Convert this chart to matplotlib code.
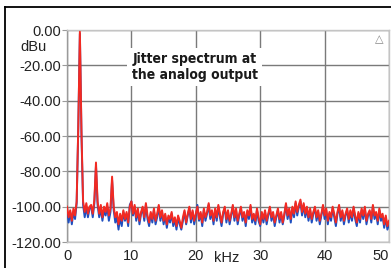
import numpy as np
import matplotlib
matplotlib.use("Agg")
import matplotlib.pyplot as plt
from matplotlib.lines import Line2D
from matplotlib.transforms import ScaledTranslation

# ---- data ----
red_db = [
    -100, -106, -102, -108,
    -101, -105, -97, -55,
    -1, -58, -97, -103,
    -98, -104, -100, -99,
    -104, -96, -75, -97,
    -104, -99, -106, -100,
    -103, -98, -105, -101,
    -83, -100, -106, -103,
    -110, -104, -108, -102,
    -107, -103, -109, -100,
    -97, -104, -99, -106,
    -101, -108, -103, -100,
    -106, -98, -105, -109,
    -103, -107, -101, -108,
    -104, -99, -106, -102,
    -108, -104, -110, -105,
    -107, -103, -109, -106,
    -111, -105, -108, -112,
    -106, -102, -109, -104,
    -100, -107, -102, -108,
    -104, -100, -107, -103,
    -109, -101, -106, -103,
    -98, -105, -102, -108,
    -101, -106, -99, -104,
    -109, -103, -100, -107,
    -102, -108, -104, -99,
    -106, -101, -108, -104,
    -100, -106, -103, -109,
    -102, -105, -99, -107,
    -104, -108, -101, -106,
    -110, -103, -107, -102,
    -108, -104, -100, -106,
    -103, -109, -105, -101,
    -107, -103, -109, -104,
    -98, -105, -101, -107,
    -100, -104, -97, -103,
    -99, -96, -103, -98,
    -104, -100, -106, -101,
    -107, -103, -100, -106,
    -102, -108, -104, -99,
    -105, -101, -108, -103,
    -106, -100, -104, -109,
    -103, -99, -106, -102,
    -108, -104, -101, -107,
    -102, -106, -100, -105,
    -109, -103, -107, -101,
    -105, -100, -108, -104,
    -102, -107, -99, -105,
    -103, -108, -101, -106,
    -104, -110, -105, -111,
    -108,
]

blue_db = [
    -101, -109, -103, -110,
    -103, -107, -98, -56,
    -2, -60, -99, -106,
    -100, -106, -101, -100,
    -106, -98, -77, -99,
    -106, -101, -108, -102,
    -105, -100, -108, -103,
    -85, -102, -109, -106,
    -113, -106, -111, -103,
    -108, -104, -111, -99,
    -97, -105, -100, -108,
    -102, -110, -104, -101,
    -108, -99, -107, -111,
    -104, -109, -102, -110,
    -106, -100, -108, -103,
    -110, -105, -112, -106,
    -109, -104, -111, -107,
    -113, -106, -110, -113,
    -108, -103, -110, -105,
    -101, -109, -103, -110,
    -105, -99, -108, -104,
    -111, -102, -108, -104,
    -99, -107, -103, -110,
    -102, -108, -100, -106,
    -111, -104, -101, -109,
    -103, -110, -105, -100,
    -108, -102, -110, -105,
    -101, -108, -104, -111,
    -103, -107, -100, -109,
    -105, -110, -102, -108,
    -111, -104, -109, -103,
    -110, -105, -101, -108,
    -104, -111, -106, -102,
    -109, -104, -110, -105,
    -99, -107, -102, -109,
    -101, -106, -98, -105,
    -100, -97, -105, -99,
    -106, -101, -108, -102,
    -109, -104, -101, -108,
    -103, -110, -105, -100,
    -107, -102, -110, -104,
    -108, -101, -106, -111,
    -104, -100, -108, -103,
    -110, -105, -102, -109,
    -103, -108, -101, -107,
    -111, -104, -109, -102,
    -107, -101, -110, -105,
    -103, -109, -100, -107,
    -104, -110, -102, -108,
    -105, -112, -106, -113,
    -110,
]

freq_khz = np.linspace(0, 50, len(red_db))

y_ticks = [0, -20, -40, -60, -80, -100, -120]
y_labels = ["0.00", "-20.00", "-40.00", "-60.00", "-80.00", "-100.00", "-120.00"]
x_ticks = [0, 10, 20, 30, 40, 50]
x_labels = ["0", "10", "20", "30", "40", "50"]
note = "Jitter spectrum at\nthe analog output"

# ---- figure ----
W, H = 391, 268
fig = plt.figure(figsize=(W / 100, H / 100), dpi=100)
fig.patch.set_facecolor("white")
plt.rcParams["font.family"] = ["Liberation Sans", "DejaVu Sans"]

ax = fig.add_axes([67 / W, 1 - 242 / H, (389 - 67) / W, (242 - 30) / H])
ax.set_xlim(0, 50)
ax.set_ylim(-120, 0)

ax.plot(freq_khz, blue_db, color="#1f4fc0", lw=1.4, zorder=3)
ax.plot(freq_khz, red_db, color="#f22a22", lw=1.4, zorder=4)

ax.set_xticks(x_ticks)
ax.set_xticklabels(x_labels, family=["Liberation Sans", "DejaVu Sans"])
ax.set_yticks(y_ticks)
ax.set_yticklabels(y_labels, family=["Liberation Sans", "DejaVu Sans"])
ax.grid(True, color="#7a7a7a", lw=1.0, zorder=1)
ax.set_axisbelow(True)

for s in ax.spines.values():
    s.set_color("#c4c4c4")
    s.set_linewidth(1.0)
ax.spines["left"].set_color("#9a9a9a")

ax.tick_params(axis="y", length=3.5, width=0.8, color="#9a9a9a", pad=0.5,
               labelsize=10.5, labelcolor="#222222")
ax.tick_params(axis="x", length=0, pad=5, labelsize=10.5, labelcolor="#222222")

# keep the last x label inside the picture
last = ax.get_xticklabels()[-1]
last.set_transform(last.get_transform() + ScaledTranslation(-8 / 100, 0, fig.dpi_scale_trans))

fig.text(20 / W, 1 - 47 / H, "dBu", fontsize=10.5, color="#222222", va="center", ha="left",
         family=["Liberation Sans", "DejaVu Sans"])
fig.text(227 / W, 1 - 258 / H, "kHz", fontsize=10.5, color="#222222", va="center", ha="center",
         family=["Liberation Sans", "DejaVu Sans"])

ax.text(19.8, -21, note, ha="center", va="center", fontsize=10,
        family=["DejaVu Sans"], fontstretch="condensed", fontweight="bold",
        color="#1a1a1a", linespacing=1.2, zorder=5,
        bbox=dict(facecolor="white", edgecolor="none", pad=3))

ax.text(0.97, 0.955, "△", transform=ax.transAxes, ha="center", va="center",
        fontsize=8, color="#888888", family=["DejaVu Sans"], zorder=5)

# outer frame (top and left)
fig.add_artist(Line2D([5 / W, 1.0], [1 - 7 / H, 1 - 7 / H], color="black", lw=1.3,
                      transform=fig.transFigure))
fig.add_artist(Line2D([5 / W, 5 / W], [0, 1 - 7 / H], color="black", lw=1.3,
                      transform=fig.transFigure))

fig.savefig("out.png", dpi=100, facecolor="white")
